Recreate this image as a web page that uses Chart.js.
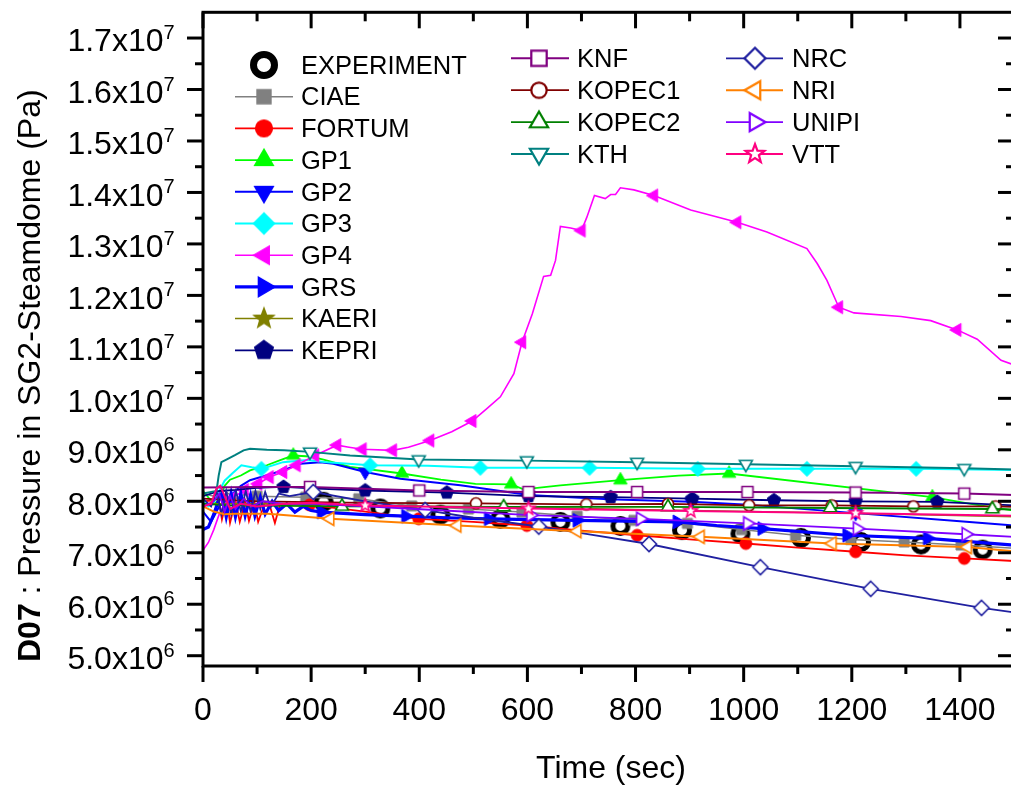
<!DOCTYPE html>
<html>
<head>
<meta charset="utf-8">
<script src="https://cdn.jsdelivr.net/npm/chart.js@4.4.0/dist/chart.umd.min.js"></script>
<style>
  html, body { margin: 0; padding: 0; background: #fff; overflow: hidden; }
  #wrap { width: 1011px; height: 785px; overflow: hidden; }
</style>
</head>
<body>
<div id="wrap"><canvas id="chart" width="1020" height="785"></canvas></div>
<script>
// pressure values are in units of 1e6 Pa, time in seconds
const PA = 1e6;
const xTicks = [0, 200, 400, 600, 800, 1000, 1200, 1400];
const yTicks = [5, 6, 7, 8, 9, 10, 11, 12, 13, 14, 15, 16, 17];

const names = ['EXPERIMENT', 'CIAE', 'FORTUM', 'GP1', 'GP2', 'GP3', 'GP4', 'GRS', 'KAERI', 'KEPRI',
               'KNF', 'KOPEC1', 'KOPEC2', 'KTH', 'NRC', 'NRI', 'UNIPI', 'VTT'];

const dEXP = [[223, 7.99], [328, 7.86], [439, 7.74], [550, 7.66], [661, 7.60], [772, 7.52],
              [886, 7.44], [994, 7.37], [1106, 7.29], [1217, 7.21], [1328, 7.16], [1442, 7.06]];

const dCIAE = [[0, 8.15], [20, 8.1], [40, 8.2], [60, 8.05], [80, 8.15], [100, 8.1], [190, 8.08],
               [288, 8.05], [386, 7.91], [491, 7.85], [590, 7.79], [692, 7.71], [797, 7.63], [896, 7.57],
               [996, 7.45], [1096, 7.34], [1198, 7.26], [1297, 7.21], [1402, 7.15], [1500, 7.09]];
const mCIAE = [100, 190, 288, 386, 491, 590, 692, 797, 896, 996, 1096, 1198, 1297, 1402];

const dFORTUM = [[0, 8.0], [20, 8.02], [28, 8.1], [35, 7.65], [44, 8.05], [50, 7.58], [60, 8.02], [68, 7.6],
                 [78, 8.0], [85, 7.62], [95, 7.98], [102, 7.6], [115, 7.98], [124, 7.9], [133, 7.58],
                 [142, 7.92], [160, 7.95], [197, 7.93], [300, 7.8], [399, 7.66], [500, 7.6], [599, 7.53],
                 [700, 7.43], [803, 7.34], [900, 7.26], [1004, 7.18], [1100, 7.1], [1207, 7.02],
                 [1300, 6.95], [1408, 6.89], [1500, 6.84]];
const mFORTUM = [197, 399, 599, 803, 1004, 1207, 1408];

const dGP1 = [[0, 8.2], [12, 8.05], [22, 7.95], [30, 8.05], [40, 8.3], [50, 8.42], [70, 8.5], [87, 8.6],
              [118, 8.7], [143, 8.8], [167, 8.89], [198, 8.87], [223, 8.81], [272, 8.67], [368, 8.54],
              [440, 8.42], [504, 8.34], [570, 8.33], [593, 8.23], [661, 8.31], [772, 8.41], [880, 8.5],
              [973, 8.54], [1349, 8.08], [1420, 7.95], [1500, 7.82]];
const mGP1 = [167, 368, 570, 772, 973, 1349];

const dGP2 = [[0, 7.8], [15, 7.6], [30, 7.9], [50, 8.1], [70, 8.3], [87, 8.41], [148, 8.6], [180, 8.73],
              [217, 8.76], [241, 8.73], [300, 8.57], [365, 8.44], [476, 8.31], [602, 8.12], [750, 8.04],
              [903, 7.99], [1000, 7.94], [1207, 7.77], [1400, 7.61], [1500, 7.53]];
const mGP2 = [300, 602, 903, 1207];

const dGP3 = [[0, 8.0], [10, 7.9], [20, 7.98], [30, 8.2], [40, 8.4], [55, 8.55], [71, 8.7], [90, 8.66],
              [108, 8.63], [148, 8.76], [192, 8.8], [229, 8.76], [309, 8.7], [416, 8.69], [513, 8.65],
              [715, 8.65], [915, 8.63], [1117, 8.63], [1319, 8.63], [1500, 8.61]];
const mGP3 = [108, 309, 513, 715, 915, 1117, 1319];

const dGP4 = [[0, 7.05], [10, 7.2], [20, 7.45], [30, 7.75], [40, 7.95], [52, 8.05], [77, 8.22], [102, 8.34],
              [123, 8.47], [148, 8.57], [173, 8.70], [207, 8.89], [248, 9.09], [270, 9.05], [295, 9.01],
              [351, 8.99], [380, 9.05], [420, 9.18], [460, 9.35], [498, 9.56], [525, 9.8], [550, 10.03],
              [575, 10.48], [590, 11.09], [609, 11.64], [630, 12.37], [643, 12.39], [652, 12.68],
              [661, 13.34], [680, 13.31], [700, 13.26], [710, 13.52], [724, 13.94], [744, 13.88],
              [754, 13.96], [763, 13.96], [772, 14.09], [797, 14.05], [834, 13.94], [902, 13.66],
              [988, 13.42], [1043, 13.23], [1117, 12.91], [1136, 12.62], [1154, 12.29], [1176, 11.77],
              [1204, 11.66], [1291, 11.59], [1346, 11.51], [1395, 11.33], [1432, 11.15], [1476, 10.74],
              [1500, 10.65]];
const mGP4 = [52, 77, 102, 123, 148, 173, 207, 248, 295, 351, 420, 498, 590, 700, 834, 988, 1176, 1395];

const dGRS = [[0, 7.45], [10, 7.5], [20, 7.75], [28, 8.0], [35, 8.15], [43, 7.7], [52, 8.15], [60, 7.7],
              [70, 8.15], [78, 7.72], [88, 8.12], [96, 7.72], [106, 8.08], [115, 7.75], [128, 8.0],
              [140, 7.82], [155, 7.95], [170, 7.79], [185, 7.9], [200, 7.82], [219, 7.79], [300, 7.74],
              [375, 7.71], [450, 7.68], [528, 7.66], [692, 7.63], [877, 7.6], [950, 7.53], [1034, 7.47],
              [1191, 7.34], [1340, 7.28], [1500, 7.15]];
const mGRS = [219, 375, 528, 692, 877, 1034, 1191, 1340];

const dKAERI = [[0, 7.95], [100, 7.95], [300, 7.92], [600, 7.88], [900, 7.82], [1200, 7.77], [1500, 7.70]];
const mKAERI = [];

const dKEPRI = [[0, 8.1], [30, 8.2], [60, 8.22], [100, 8.26], [149, 8.28], [200, 8.25], [300, 8.21],
                [451, 8.17], [602, 8.1], [754, 8.08], [905, 8.05], [1056, 8.02], [1207, 8.0], [1358, 7.99],
                [1500, 7.92]];
const mKEPRI = [149, 300, 451, 602, 754, 905, 1056, 1207, 1358];

const dKNF = [[0, 8.27], [100, 8.28], [198, 8.28], [400, 8.21], [602, 8.18], [803, 8.18], [1007, 8.18],
              [1207, 8.17], [1408, 8.15], [1500, 8.12]];
const mKNF = [198, 400, 602, 803, 1007, 1207, 1408];

const dKOPEC1 = [[0, 8.05], [100, 8.0], [300, 7.97], [505, 7.96], [709, 7.94], [860, 7.95], [1010, 7.92],
                 [1163, 7.92], [1314, 7.9], [1466, 7.9], [1500, 7.89]];
const mKOPEC1 = [505, 709, 860, 1010, 1163, 1314, 1466];

const dKOPEC2 = [[0, 7.95], [50, 7.92], [257, 7.9], [556, 7.89], [860, 7.89], [1160, 7.87], [1460, 7.85],
                 [1500, 7.84]];
const mKOPEC2 = [257, 556, 860, 1160, 1460];

const dKTH = [[0, 8.15], [25, 8.2], [29, 8.5], [34, 8.76], [45, 8.82], [60, 8.9], [75, 8.99], [87, 9.02],
              [118, 9.0], [150, 8.99], [198, 8.96], [272, 8.89], [399, 8.81], [599, 8.79], [803, 8.76],
              [1004, 8.72], [1207, 8.68], [1408, 8.64], [1500, 8.62]];
const mKTH = [198, 399, 599, 803, 1004, 1207, 1408];

const dNRC = [[0, 8.05], [15, 7.9], [25, 8.2], [34, 7.75], [43, 8.2], [52, 7.75], [61, 8.2], [70, 7.8],
              [79, 8.2], [88, 7.8], [97, 8.2], [106, 7.85], [115, 8.18], [125, 7.88], [140, 8.15],
              [160, 8.1], [204, 8.18], [300, 8.0], [411, 7.83], [500, 7.68], [621, 7.51], [700, 7.38],
              [825, 7.17], [1031, 6.72], [1235, 6.3], [1440, 5.93], [1500, 5.84]];
const mNRC = [204, 411, 621, 825, 1031, 1235, 1440];

const dNRI = [[0, 7.9], [20, 7.8], [40, 7.75], [60, 7.76], [120, 7.76], [235, 7.66], [470, 7.53],
              [692, 7.42], [920, 7.31], [1164, 7.18], [1414, 7.11], [1500, 7.03]];
const mNRI = [235, 470, 692, 920, 1164, 1414];

const dUNIPI = [[0, 7.9], [20, 8.0], [30, 8.15], [40, 7.8], [50, 8.1], [60, 7.85], [75, 8.05], [90, 7.9],
                [110, 8.0], [150, 7.95], [207, 7.95], [300, 7.9], [411, 7.84], [606, 7.73], [809, 7.66],
                [1007, 7.57], [1210, 7.47], [1411, 7.36], [1500, 7.31]];
const mUNIPI = [606, 809, 1007, 1210, 1411];

const dVTT = [[0, 7.9], [15, 7.95], [25, 8.25], [32, 8.3], [40, 8.1], [50, 7.85], [70, 7.95], [100, 7.9],
              [150, 7.95], [200, 7.97], [300, 7.92], [602, 7.86], [902, 7.81], [1207, 7.77], [1500, 7.72]];
const mVTT = [300, 602, 902, 1207];

const seriesData = [dEXP, dCIAE, dFORTUM, dGP1, dGP2, dGP3, dGP4, dGRS, dKAERI, dKEPRI,
                    dKNF, dKOPEC1, dKOPEC2, dKTH, dNRC, dNRI, dUNIPI, dVTT];
const seriesMarks = [null, mCIAE, mFORTUM, mGP1, mGP2, mGP3, mGP4, mGRS, mKAERI, mKEPRI,
                     mKNF, mKOPEC1, mKOPEC2, mKTH, mNRC, mNRI, mUNIPI, mVTT];

// styles
const colors = ['#000000', '#808080', '#FF0000', '#00FF00', '#0000FF', '#00FFFF', '#FF00FF', '#0000FF',
                '#808000', '#000080', '#800080', '#800000', '#008000', '#008080', '#2020A0', '#FF8000',
                '#8000FF', '#FF0080'];
const shapes = ['ring', 'square', 'circle', 'up', 'down', 'diamond', 'left', 'right', 'star', 'pentagon',
                'square', 'circle', 'up', 'down', 'diamond', 'left', 'right', 'star'];
const hollow = [false, false, false, false, false, false, false, false, false, false,
                true, true, true, true, true, true, true, true];
const markSize = [7.5, 5, 6, 7.7, 7.7, 7.5, 7.5, 8, 7.5, 7, 5.5, 5.5, 7.5, 7.5, 7.5, 7.5, 7.5, 7];
const lineW = [0, 1.5, 1.8, 1.8, 2, 2, 1.6, 3.2, 1.5, 1.8, 2, 1.8, 1.8, 2, 1.8, 2, 1.8, 2];

const FONT = '"Liberation Sans", Arial, Helvetica, sans-serif';

// draw a marker symbol into a small canvas, used as pointStyle
function makeMarker(shape, r, color, open, scale) {
  r *= scale;
  const lw = (shape === 'ring' ? 5 : open ? 1.6 : 1) * scale;
  const dim = 2 * Math.ceil(r + lw / 2 + 2);
  const c = document.createElement('canvas');
  c.width = dim;
  c.height = dim;
  const g = c.getContext('2d');
  g.translate(dim / 2, dim / 2);
  const deg = Math.PI / 180;
  const poly = (n, rot) => {
    for (let k = 0; k < n; k++) {
      const a = rot + k * 2 * Math.PI / n;
      if (k === 0) g.moveTo(r * Math.cos(a), r * Math.sin(a));
      else g.lineTo(r * Math.cos(a), r * Math.sin(a));
    }
    g.closePath();
  };
  g.beginPath();
  if (shape === 'ring' || shape === 'circle') g.arc(0, 0, r, 0, 2 * Math.PI);
  else if (shape === 'square') g.rect(-r, -r, 2 * r, 2 * r);
  else if (shape === 'diamond') poly(4, -90 * deg);
  else if (shape === 'up') poly(3, -90 * deg);
  else if (shape === 'down') poly(3, 90 * deg);
  else if (shape === 'left') poly(3, 180 * deg);
  else if (shape === 'right') poly(3, 0);
  else if (shape === 'pentagon') poly(5, -90 * deg);
  else if (shape === 'star') {
    for (let k = 0; k < 10; k++) {
      const a = -90 * deg + k * 36 * deg;
      const rr = k % 2 ? r * 0.42 : r;
      if (k === 0) g.moveTo(rr * Math.cos(a), rr * Math.sin(a));
      else g.lineTo(rr * Math.cos(a), rr * Math.sin(a));
    }
    g.closePath();
  }
  g.lineWidth = lw;
  g.strokeStyle = color;
  if (shape !== 'ring') {
    g.fillStyle = open ? '#ffffff' : color;
    g.fill();
  }
  g.stroke();
  return c;
}

const plotMarkers = names.map((n, i) => makeMarker(shapes[i], markSize[i], colors[i], hollow[i], 1));
const legendMarkers = names.map((n, i) => makeMarker(shapes[i], markSize[i], colors[i], hollow[i], 1.4));

const datasets = names.map((n, i) => {
  const pts = seriesData[i];
  const mk = seriesMarks[i];
  const radii = pts.map(p => (!mk || mk.includes(p[0])) ? 6 : 0);
  return {
    label: n,
    data: pts.map(p => ({ x: p[0], y: p[1] * PA })),
    showLine: i !== 0,
    borderColor: colors[i],
    backgroundColor: colors[i],
    borderWidth: lineW[i],
    pointStyle: plotMarkers[i],
    pointRadius: radii,
    pointHoverRadius: radii,
    tension: 0,
    fill: false,
    order: names.length - i
  };
});

// legend layout: column start / marker / line end / text x, first row y, row step
const legendCols = [
  { x1: 235, xm: 264, x2: 293, tx: 301, y0: 65, dy: 31.7, from: 0, to: 10 },
  { x1: 511, xm: 539, x2: 569, tx: 577, y0: 58.3, dy: 31.9, from: 10, to: 14 },
  { x1: 726, xm: 755, x2: 783, tx: 792, y0: 58.3, dy: 31.9, from: 14, to: 18 }
];

function sci(v) {
  const e = v >= 10 ? 7 : 6;
  return [(v / Math.pow(10, e - 6)).toFixed(1) + 'x10', String(e)];
}

const framePlugin = {
  id: 'frame',
  afterDraw(chart) {
    const { ctx, chartArea: a, scales: { x, y } } = chart;
    ctx.save();
    ctx.strokeStyle = '#000';
    ctx.fillStyle = '#000';
    ctx.lineWidth = 3;
    ctx.lineCap = 'butt';
    ctx.strokeRect(a.left, a.top, a.right - a.left, a.bottom - a.top);

    const seg = (x1, y1, x2, y2) => {
      ctx.beginPath();
      ctx.moveTo(x1, y1);
      ctx.lineTo(x2, y2);
      ctx.stroke();
    };

    // x ticks (major + minor)
    for (let i = 0; i < xTicks.length; i++) {
      const t = xTicks[i];
      const px = x.getPixelForValue(t);
      seg(px, a.bottom, px, a.bottom + 16);
      seg(px, a.top, px, a.top + 16);
      const m = x.getPixelForValue(t + 100);
      seg(m, a.bottom, m, a.bottom + 8);
      seg(m, a.top, m, a.top + 9);
    }
    // y ticks (major + minor)
    for (let i = 0; i < yTicks.length; i++) {
      const v = yTicks[i];
      const py = y.getPixelForValue(v * PA);
      seg(a.left, py, a.left - 16, py);
      seg(a.right, py, a.right - 16, py);
      const m = y.getPixelForValue((v + 0.5) * PA);
      if (m > a.top + 2) {
        seg(a.left, m, a.left - 8, m);
        seg(a.right, m, a.right - 8, m);
      }
    }

    // x tick labels
    ctx.font = '32px ' + FONT;
    ctx.textAlign = 'center';
    ctx.textBaseline = 'alphabetic';
    xTicks.forEach(t => ctx.fillText(String(t), x.getPixelForValue(t), 720));

    // y tick labels with superscript exponent
    yTicks.forEach(v => {
      const py = y.getPixelForValue(v * PA);
      const [base, ex] = sci(v);
      ctx.font = '32px ' + FONT;
      ctx.textAlign = 'right';
      ctx.fillText(base, 163.5, py + 13.4);
      ctx.font = '20px ' + FONT;
      ctx.textAlign = 'left';
      ctx.fillText(ex, 163.5, py + 1);
    });

    // axis titles
    ctx.font = '32px ' + FONT;
    ctx.textAlign = 'center';
    ctx.fillText('Time (sec)', 611, 778);

    ctx.save();
    ctx.translate(40, 662);
    ctx.rotate(-Math.PI / 2);
    ctx.textAlign = 'left';
    ctx.font = 'bold 32px ' + FONT;
    ctx.fillText('D07', 0, 0);
    const w = ctx.measureText('D07').width;
    ctx.font = '32px ' + FONT;
    ctx.fillText(' : Pressure in SG2-Steamdome (Pa)', w, 0);
    ctx.restore();

    // legend
    ctx.font = '25.5px ' + FONT;
    ctx.textAlign = 'left';
    legendCols.forEach(col => {
      for (let i = col.from; i < col.to; i++) {
        const ry = col.y0 + (i - col.from) * col.dy;
        if (i !== 0) {
          ctx.strokeStyle = colors[i];
          ctx.lineWidth = lineW[i];
          seg(col.x1, ry, col.x2, ry);
        }
        const img = legendMarkers[i];
        ctx.drawImage(img, col.xm - img.width / 2, ry - img.height / 2);
        ctx.fillStyle = '#000';
        ctx.fillText(names[i], col.tx, ry + 8.7);
      }
    });
    ctx.restore();
  }
};

new Chart(document.getElementById('chart').getContext('2d'), {
  type: 'line',
  data: { datasets: datasets },
  options: {
    responsive: false,
    animation: false,
    devicePixelRatio: 1,
    events: [],
    layout: { padding: { left: 0, top: 12.3, right: 2.4, bottom: 0 } },
    plugins: { legend: { display: false }, tooltip: { enabled: false } },
    scales: {
      x: {
        type: 'linear',
        min: 0,
        max: 1500,
        grid: { display: false },
        border: { display: false },
        ticks: { display: false },
        afterFit: s => { s.height = 119; }
      },
      y: {
        type: 'linear',
        min: 4.8 * PA,
        max: 17.5 * PA,
        grid: { display: false },
        border: { display: false },
        ticks: { display: false },
        afterFit: s => { s.width = 203; }
      }
    }
  },
  plugins: [framePlugin]
});
</script>
</body>
</html>
